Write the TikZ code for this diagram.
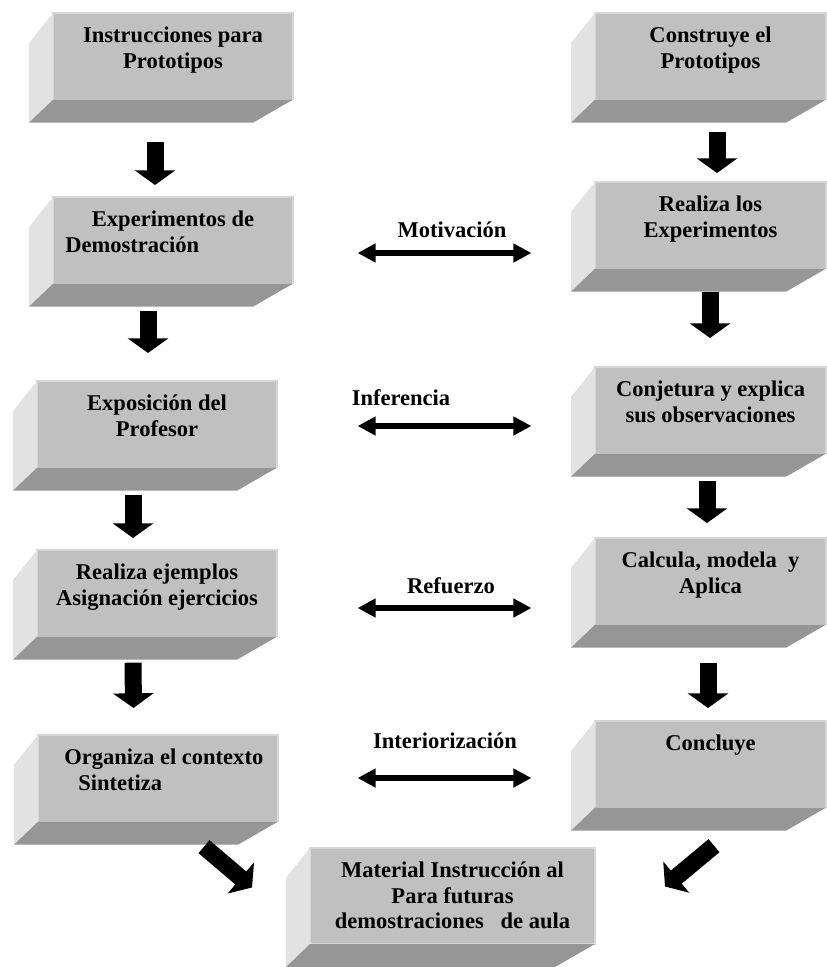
\documentclass[tikz,border=0pt]{standalone}
\usepackage{fontspec}
\setmainfont{Liberation Serif}
\usetikzlibrary{arrows.meta,calc}
\definecolor{gris}{RGB}{192,192,192}
\definecolor{grisclaro}{RGB}{214,214,214}
\definecolor{lateral}{RGB}{226,226,226}
\definecolor{fondo}{RGB}{150,150,150}
\newcommand{\caras}[1]{%
  \fill[lateral] (#1.north west) -- ++(-24,30) -- ($(#1.south west)+(-24,23)$) -- (#1.south west) -- cycle;
  \fill[fondo] (#1.south west) -- (#1.south east) -- ++(-40,23) -- ($(#1.south west)+(-24,23)$) -- cycle;
}

\begin{document}
\begin{tikzpicture}[x=0.75pt,y=-0.75pt,font=\fontsize{16.9}{19}\selectfont\bfseries]
    \tikzstyle{frente}=[rectangle,fill=gris,draw=grisclaro,line width=1pt,outer sep=0pt,anchor=north west,minimum width=180pt,minimum height=65pt]
    \tikzstyle{derecha}=[frente,minimum width=173.25pt]
    \tikzstyle{texto}=[anchor=north,align=center,inner sep=0pt,yshift=-10.5pt]
    \tikzstyle{textoiz}=[anchor=north west,align=left,inner sep=0pt,xshift=9pt,yshift=-10.5pt]
    \tikzstyle{flecha}=[line width=12.75pt,-{Triangle[width=30pt,length=11pt]}]
    \tikzstyle{doble}=[line width=5pt,{Triangle[width=13.5pt,length=13.5pt,sep=1.2pt]}-{Triangle[width=13.5pt,length=13.5pt,sep=1.2pt]}]
    \tikzstyle{rel}=[anchor=base,inner sep=0pt]
    \path[use as bounding box] (0,0) rectangle (827,967);

    \node[frente,label={[texto]north:Instrucciones para\\Prototipos}] (ins) at (53,13) {};
    \node[frente,label={[textoiz]north west:\hspace*{20pt}Experimentos de\\Demostración}] (exp) at (53,197) {};
    \node[frente,label={[texto]north:Exposición del\\Profesor}] (expo) at (37,381) {};
    \node[frente,label={[texto]north:Realiza ejemplos\\Asignación ejercicios}] (ejem) at (37,550) {};
    \node[frente,label={[textoiz,xshift=10.5pt]north west:Organiza el contexto\\\hspace*{10.5pt}Sintetiza}] (org) at (38,735) {};

    \node[derecha,label={[texto]north:Construye el\\Prototipos}] (cons) at (595,13) {};
    \node[derecha,label={[texto]north:Realiza los\\Experimentos}] (real) at (595,182) {};
    \node[derecha,label={[texto]north:Conjetura y explica\\sus observaciones}] (conj) at (595,367) {};
    \node[derecha,label={[texto]north:Calcula, modela~ y\\Aplica}] (calcula) at (595,538) {};
    \node[derecha,label={[texto]north:Concluye}] (concl) at (595,721) {};

    \node[frente,minimum width=213.75pt,minimum height=72pt,label={[texto]north:Material Instrucción al\\Para futuras\\demostraciones~~~de aula}] (mat) at (310,848) {};

    \foreach \n in {ins,exp,expo,ejem,org,cons,real,conj,calcula,concl,mat}
        \caras{\n};

    \draw[flecha] ($(ins.south)+(-18,42)$) -- ($(exp.north)+(-18,-12)$);
    \draw[flecha] ($(exp.south)+(-25,27)$) -- ($(expo.north)+(-9,-28)$);
    \draw[flecha] ($(expo.south)+(-24,27)$) -- ($(ejem.north)+(-24,-12)$);
    \draw[flecha] ($(ejem.south)+(-24,26)$) -- ($(org.north)+(-24.5,-27)$);
    \draw[flecha] ($(cons.south)+(6.5,32)$) -- ($(real.north)+(6.5,-9)$);
    \draw[flecha] ($(real.south)+(-0.5,23)$) -- ($(conj.north)+(-0.5,-29)$);
    \draw[flecha] ($(conj.south)+(-3.5,27)$) -- ($(calcula.north)+(-3.5,-15)$);
    \draw[flecha] ($(calcula.south)+(-2.5,38)$) -- ($(concl.north)+(-2.5,-13)$);
    \draw[flecha] ($(org.south east)+(-74,25)$) -- ($(mat.west)+(-58,-8.5)$);
    \draw[flecha] ($(concl.south)+(3.5,38)$) -- ($(mat.east)+(70,-9.5)$);

    \node[rel] (mot) at (452,237) {Motivación};
    \node[rel] (inf) at (401,405) {Inferencia};
    \node[rel] (ref) at (451,593) {Refuerzo};
    \node[rel] (int) at (445,748) {Interiorización};

    \coordinate (mot1) at (356,253);
    \coordinate (mot2) at (533,253);
    \coordinate (inf1) at (356,426);
    \coordinate (inf2) at (533,426);
    \coordinate (ref1) at (356,608);
    \coordinate (ref2) at (533,608);
    \coordinate (int1) at (356,778);
    \coordinate (int2) at (533,778);
    \draw[doble] (mot1) -- (mot2);
    \draw[doble] (inf1) -- (inf2);
    \draw[doble] (ref1) -- (ref2);
    \draw[doble] (int1) -- (int2);
\end{tikzpicture}
\end{document}
